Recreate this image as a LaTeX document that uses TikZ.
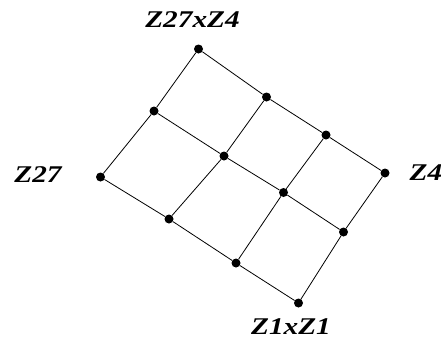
\documentclass[tikz,border=0pt]{standalone}
\usepackage{fontspec}
\setmainfont{Liberation Serif}
\tikzset{
  dot/.style={circle,fill=black,inner sep=0pt,minimum size=9pt},
  lbl/.style={font=\fontsize{24}{28}\selectfont\bfseries\itshape,inner sep=0pt,anchor=base},
  edge/.style={draw=black,line width=0.8pt}
}
\newcommand{\wide}[1]{\scalebox{1.22}[1]{#1}}
\begin{document}
\begin{tikzpicture}[x=1pt,y=-1pt]
\useasboundingbox (0,0) rectangle (441,338);
% row 0
\node[dot] (a0) at (198.5,49) {};
\node[dot] (a1) at (266.5,97) {};
\node[dot] (a2) at (326,135) {};
\node[dot] (a3) at (385,173) {};
% row 1
\node[dot] (b0) at (154,111) {};
\node[dot] (b1) at (224,156) {};
\node[dot] (b2) at (283.5,192.5) {};
\node[dot] (b3) at (343.5,232) {};
% row 2
\node[dot] (c0) at (100.5,177) {};
\node[dot] (c1) at (169,219) {};
\node[dot] (c2) at (236,263) {};
\node[dot] (c3) at (298.5,303) {};
% edges along rows
\draw[edge] (a0) -- (a1) -- (a2) -- (a3);
\draw[edge] (b0) -- (b1) -- (b2) -- (b3);
\draw[edge] (c0) -- (c1) -- (c2) -- (c3);
% edges along columns
\draw[edge] (a0) -- (b0) -- (c0);
\draw[edge] (a1) -- (b1) -- (c1);
\draw[edge] (a2) -- (b2) -- (c2);
\draw[edge] (a3) -- (b3) -- (c3);
% labels
\node[lbl] (t) at (192.5,27) {\wide{Z27xZ4}};
\node[lbl] (l) at (38,182) {\wide{Z27}};
\node[lbl] (r) at (426,180) {\wide{Z4}};
\node[lbl] (bt) at (291,334) {\wide{Z1xZ1}};
\end{tikzpicture}
\end{document}
